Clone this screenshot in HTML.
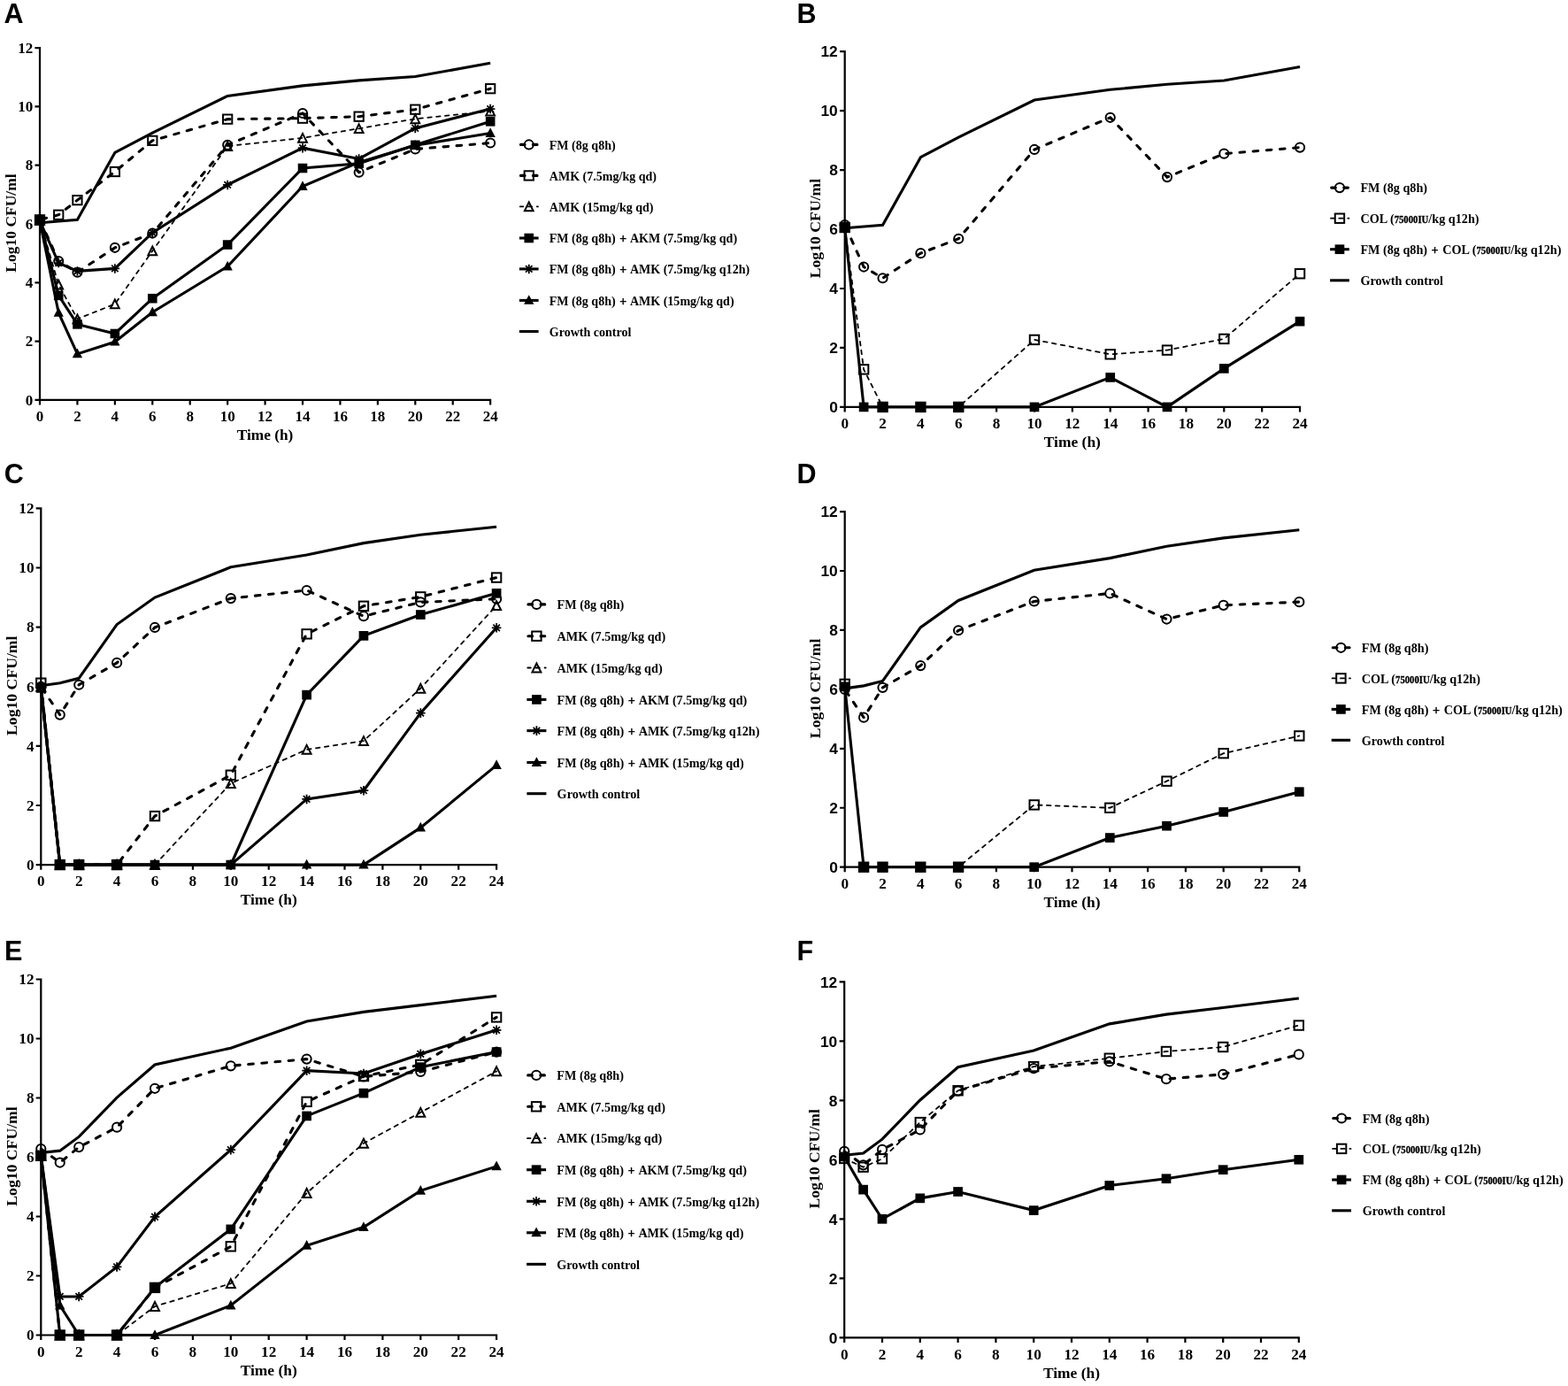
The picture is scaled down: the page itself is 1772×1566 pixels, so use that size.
<!DOCTYPE html>
<html lang="en"><head><meta charset="utf-8">
<title>Time-kill curves: FM combined with AMK or COL</title>
<style>
html,body{margin:0;padding:0;background:#fff;}
body{width:1772px;height:1566px;overflow:hidden;}
svg{display:block;}
.fig text{font-family:"Liberation Serif", "DejaVu Serif", serif;font-weight:bold;fill:#000;}
.fig text.sans{font-family:"Liberation Sans", "DejaVu Sans", sans-serif;font-weight:bold;}
.ln{fill:none;stroke:#000;stroke-linejoin:miter;}
.ax{fill:none;stroke:#000;stroke-linecap:butt;}
</style></head><body>
<svg class="fig" role="img" aria-label="Time-kill curves, panels A to F" width="1772" height="1566" viewBox="0 0 1772 1566">
<rect x="0" y="0" width="1772" height="1566" fill="#fff"/>
<g id="panel-A">
<text class="sans" x="4.5" y="26.2" font-size="30.5">A</text>
<path class="ax" d="M45 53.01L45 457.44M39.46 451.9L555.25 451.9M39.46 385.6L45 385.6M39.46 319.3L45 319.3M39.46 253L45 253M39.46 186.7L45 186.7M39.46 120.4L45 120.4M39.46 54.1L45 54.1M87.43 451.9L87.43 457.44M129.86 451.9L129.86 457.44M172.29 451.9L172.29 457.44M214.72 451.9L214.72 457.44M257.15 451.9L257.15 457.44M299.58 451.9L299.58 457.44M342.01 451.9L342.01 457.44M384.44 451.9L384.44 457.44M426.87 451.9L426.87 457.44M469.3 451.9L469.3 457.44M511.73 451.9L511.73 457.44M554.16 451.9L554.16 457.44" stroke-width="2.18"/>
<text x="37.29" y="457.65" font-size="17.01" text-anchor="end">0</text>
<text x="37.29" y="391.35" font-size="17.01" text-anchor="end">2</text>
<text x="37.29" y="325.05" font-size="17.01" text-anchor="end">4</text>
<text x="37.29" y="258.75" font-size="17.01" text-anchor="end">6</text>
<text x="37.29" y="192.45" font-size="17.01" text-anchor="end">8</text>
<text x="37.29" y="126.15" font-size="17.01" text-anchor="end">10</text>
<text x="37.29" y="59.85" font-size="17.01" text-anchor="end">12</text>
<text x="45" y="475.93" font-size="17.01" text-anchor="middle">0</text>
<text x="87.43" y="475.93" font-size="17.01" text-anchor="middle">2</text>
<text x="129.86" y="475.93" font-size="17.01" text-anchor="middle">4</text>
<text x="172.29" y="475.93" font-size="17.01" text-anchor="middle">6</text>
<text x="214.72" y="475.93" font-size="17.01" text-anchor="middle">8</text>
<text x="257.15" y="475.93" font-size="17.01" text-anchor="middle">10</text>
<text x="299.58" y="475.93" font-size="17.01" text-anchor="middle">12</text>
<text x="342.01" y="475.93" font-size="17.01" text-anchor="middle">14</text>
<text x="384.44" y="475.93" font-size="17.01" text-anchor="middle">16</text>
<text x="426.87" y="475.93" font-size="17.01" text-anchor="middle">18</text>
<text x="469.3" y="475.93" font-size="17.01" text-anchor="middle">20</text>
<text x="511.73" y="475.93" font-size="17.01" text-anchor="middle">22</text>
<text x="554.16" y="475.93" font-size="17.01" text-anchor="middle">24</text>
<text x="299.58" y="496.6" font-size="17.26" text-anchor="middle">Time (h)</text>
<text transform="translate(17.8 252) rotate(-90)" font-size="17.51" text-anchor="middle">Log10 CFU/ml</text>
<polyline class="ln" points="45,251.67 66.22,250.02 87.43,248.36 129.86,172.45 172.29,150.24 257.15,108.47 342.01,96.86 405.65,90.9 469.3,86.59 554.16,71.34" stroke-width="3.07"/>
<polyline class="ln" points="45,248.03 66.22,295.1 87.43,307.7 129.86,279.85 172.29,263.61 257.15,163.83 342.01,128.02 405.65,194.66 469.3,168.47 554.16,161.51" stroke-width="3.07" stroke-linecap="round" stroke-dasharray="5.54 9.49" stroke-dashoffset="-2.27"/>
<polyline class="ln" points="45,248.36 66.22,242.72 87.43,226.15 129.86,193.99 172.29,158.85 257.15,134.65 342.01,133.66 405.65,131.67 469.3,123.71 554.16,100.18" stroke-width="3.07" stroke-linecap="round" stroke-dasharray="5.54 9.49" stroke-dashoffset="-2.27"/>
<polyline class="ln" points="45,249.02 66.22,321.62 87.43,360.41 129.86,343.5 172.29,283.5 257.15,165.15 342.01,155.87 405.65,145.26 469.3,134.32 554.16,125.7" stroke-width="1.78" stroke-linecap="round" stroke-dasharray="4.45 5.44"/>
<polyline class="ln" points="45,248.69 66.22,333.89 87.43,366.37 129.86,376.98 172.29,337.2 257.15,276.54 342.01,190.01 405.65,184.71 469.3,163.83 554.16,137.31" stroke-width="3.07"/>
<polyline class="ln" points="45,249.69 66.22,297.09 87.43,306.37 129.86,303.39 172.29,262.94 257.15,208.91 342.01,167.14 405.65,179.41 469.3,144.93 554.16,123.05" stroke-width="3.07"/>
<polyline class="ln" points="45,249.69 66.22,353.44 87.43,399.85 129.86,386.26 172.29,352.78 257.15,301.07 342.01,210.57 405.65,183.38 469.3,164.16 554.16,150.57" stroke-width="3.07"/>
<g><circle cx="45" cy="248.03" r="5.04" fill="none" stroke="#000" stroke-width="1.98"/><circle cx="66.22" cy="295.1" r="5.04" fill="none" stroke="#000" stroke-width="1.98"/><circle cx="87.43" cy="307.7" r="5.04" fill="none" stroke="#000" stroke-width="1.98"/><circle cx="129.86" cy="279.85" r="5.04" fill="none" stroke="#000" stroke-width="1.98"/><circle cx="172.29" cy="263.61" r="5.04" fill="none" stroke="#000" stroke-width="1.98"/><circle cx="257.15" cy="163.83" r="5.04" fill="none" stroke="#000" stroke-width="1.98"/><circle cx="342.01" cy="128.02" r="5.04" fill="none" stroke="#000" stroke-width="1.98"/><circle cx="405.65" cy="194.66" r="5.04" fill="none" stroke="#000" stroke-width="1.98"/><circle cx="469.3" cy="168.47" r="5.04" fill="none" stroke="#000" stroke-width="1.98"/><circle cx="554.16" cy="161.51" r="5.04" fill="none" stroke="#000" stroke-width="1.98"/></g>
<g><rect x="39.86" y="243.22" width="10.29" height="10.29" fill="none" stroke="#000" stroke-width="1.98"/><rect x="61.07" y="237.58" width="10.29" height="10.29" fill="none" stroke="#000" stroke-width="1.98"/><rect x="82.29" y="221.01" width="10.29" height="10.29" fill="none" stroke="#000" stroke-width="1.98"/><rect x="124.72" y="188.85" width="10.29" height="10.29" fill="none" stroke="#000" stroke-width="1.98"/><rect x="167.15" y="153.71" width="10.29" height="10.29" fill="none" stroke="#000" stroke-width="1.98"/><rect x="252.01" y="129.51" width="10.29" height="10.29" fill="none" stroke="#000" stroke-width="1.98"/><rect x="336.87" y="128.52" width="10.29" height="10.29" fill="none" stroke="#000" stroke-width="1.98"/><rect x="400.51" y="126.53" width="10.29" height="10.29" fill="none" stroke="#000" stroke-width="1.98"/><rect x="464.16" y="118.57" width="10.29" height="10.29" fill="none" stroke="#000" stroke-width="1.98"/><rect x="549.02" y="95.04" width="10.29" height="10.29" fill="none" stroke="#000" stroke-width="1.98"/></g>
<g><path d="M45 244.08L49.9 253.87L40.1 253.87Z" fill="none" stroke="#000" stroke-width="1.98" stroke-linejoin="miter"/><path d="M66.22 316.68L71.11 326.47L61.32 326.47Z" fill="none" stroke="#000" stroke-width="1.98" stroke-linejoin="miter"/><path d="M87.43 355.46L92.33 365.25L82.53 365.25Z" fill="none" stroke="#000" stroke-width="1.98" stroke-linejoin="miter"/><path d="M129.86 338.55L134.76 348.35L124.96 348.35Z" fill="none" stroke="#000" stroke-width="1.98" stroke-linejoin="miter"/><path d="M172.29 278.55L177.19 288.34L167.39 288.34Z" fill="none" stroke="#000" stroke-width="1.98" stroke-linejoin="miter"/><path d="M257.15 160.21L262.05 170L252.25 170Z" fill="none" stroke="#000" stroke-width="1.98" stroke-linejoin="miter"/><path d="M342.01 150.93L346.91 160.72L337.11 160.72Z" fill="none" stroke="#000" stroke-width="1.98" stroke-linejoin="miter"/><path d="M405.65 140.32L410.55 150.11L400.76 150.11Z" fill="none" stroke="#000" stroke-width="1.98" stroke-linejoin="miter"/><path d="M469.3 129.38L474.2 139.17L464.4 139.17Z" fill="none" stroke="#000" stroke-width="1.98" stroke-linejoin="miter"/><path d="M554.16 120.76L559.06 130.55L549.26 130.55Z" fill="none" stroke="#000" stroke-width="1.98" stroke-linejoin="miter"/></g>
<g><rect x="39.71" y="243.4" width="10.58" height="10.58" fill="#000"/><rect x="60.92" y="328.59" width="10.58" height="10.58" fill="#000"/><rect x="82.14" y="361.08" width="10.58" height="10.58" fill="#000"/><rect x="124.57" y="371.69" width="10.58" height="10.58" fill="#000"/><rect x="167" y="331.91" width="10.58" height="10.58" fill="#000"/><rect x="251.86" y="271.25" width="10.58" height="10.58" fill="#000"/><rect x="336.72" y="184.72" width="10.58" height="10.58" fill="#000"/><rect x="400.36" y="179.42" width="10.58" height="10.58" fill="#000"/><rect x="464.01" y="158.54" width="10.58" height="10.58" fill="#000"/><rect x="548.87" y="132.02" width="10.58" height="10.58" fill="#000"/></g>
<g><path d="M45 244.44L45 254.93M48.71 245.98L41.29 253.39M50.24 249.69L39.76 249.69M48.71 253.39L41.29 245.98" fill="none" stroke="#000" stroke-width="1.78"/><path d="M66.22 291.85L66.22 302.33M69.92 293.38L62.51 300.8M71.46 297.09L60.97 297.09M69.92 300.8L62.51 293.38" fill="none" stroke="#000" stroke-width="1.78"/><path d="M87.43 301.13L87.43 311.61M91.14 302.67L83.72 310.08M92.67 306.37L82.19 306.37M91.14 310.08L83.72 302.67" fill="none" stroke="#000" stroke-width="1.78"/><path d="M129.86 298.15L129.86 308.63M133.57 299.68L126.15 307.09M135.1 303.39L124.62 303.39M133.57 307.09L126.15 299.68" fill="none" stroke="#000" stroke-width="1.78"/><path d="M172.29 257.7L172.29 268.19M176 259.24L168.58 266.65M177.53 262.94L167.05 262.94M176 266.65L168.58 259.24" fill="none" stroke="#000" stroke-width="1.78"/><path d="M257.15 203.67L257.15 214.15M260.86 205.2L253.44 212.62M262.39 208.91L251.91 208.91M260.86 212.62L253.44 205.2" fill="none" stroke="#000" stroke-width="1.78"/><path d="M342.01 161.9L342.01 172.38M345.72 163.44L338.3 170.85M347.25 167.14L336.77 167.14M345.72 170.85L338.3 163.44" fill="none" stroke="#000" stroke-width="1.78"/><path d="M405.65 174.17L405.65 184.65M409.36 175.7L401.95 183.11M410.9 179.41L400.41 179.41M409.36 183.11L401.95 175.7" fill="none" stroke="#000" stroke-width="1.78"/><path d="M469.3 139.69L469.3 150.17M473.01 141.22L465.59 148.64M474.54 144.93L464.06 144.93M473.01 148.64L465.59 141.22" fill="none" stroke="#000" stroke-width="1.78"/><path d="M554.16 117.81L554.16 128.29M557.87 119.35L550.45 126.76M559.4 123.05L548.92 123.05M557.87 126.76L550.45 119.35" fill="none" stroke="#000" stroke-width="1.78"/></g>
<g><path d="M45 243.45L50.64 254.04L39.36 254.04Z" fill="#000"/><path d="M66.22 347.21L71.85 357.8L60.58 357.8Z" fill="#000"/><path d="M87.43 393.62L93.07 404.21L81.79 404.21Z" fill="#000"/><path d="M129.86 380.03L135.5 390.61L124.22 390.61Z" fill="#000"/><path d="M172.29 346.55L177.93 357.13L166.65 357.13Z" fill="#000"/><path d="M257.15 294.84L262.79 305.42L251.51 305.42Z" fill="#000"/><path d="M342.01 204.34L347.65 214.92L336.37 214.92Z" fill="#000"/><path d="M405.65 177.15L411.29 187.74L400.02 187.74Z" fill="#000"/><path d="M469.3 157.93L474.94 168.51L463.66 168.51Z" fill="#000"/><path d="M554.16 144.34L559.8 154.92L548.52 154.92Z" fill="#000"/></g>
<path class="ln" d="M588.43 163.4L593.08 163.4M602.38 163.4L607.03 163.4" stroke-width="3.07" stroke-linecap="round"/>
<circle cx="597.75" cy="163.4" r="5.04" fill="none" stroke="#000" stroke-width="1.98"/>
<text x="620.8" y="168.54" font-size="14.04">FM (8g q8h)</text>
<path class="ln" d="M588.43 198.4L593.08 198.4M602.38 198.4L607.03 198.4" stroke-width="3.07" stroke-linecap="round"/>
<rect x="592.61" y="193.26" width="10.29" height="10.29" fill="none" stroke="#000" stroke-width="1.98"/>
<text x="620.8" y="203.54" font-size="14.04">AMK (7.5mg/kg qd)</text>
<path class="ln" d="M587.79 233.4L591.25 233.4M596.99 233.4L601.14 233.4M606.88 233.4L607.97 233.4" stroke-width="1.78" stroke-linecap="round"/>
<path d="M597.75 228.46L602.65 238.25L592.85 238.25Z" fill="none" stroke="#000" stroke-width="1.98" stroke-linejoin="miter"/>
<text x="620.8" y="238.54" font-size="14.04">AMK (15mg/kg qd)</text>
<path class="ln" d="M586.9 269L608.6 269" stroke-width="3.07"/>
<rect x="592.46" y="263.71" width="10.58" height="10.58" fill="#000"/>
<text x="620.8" y="274.14" font-size="14.04">FM (8g q8h) <tspan dx="1" stroke="#000" stroke-width="0.4">+</tspan> <tspan dx="1">AKM (7.5mg/kg qd)</tspan></text>
<path class="ln" d="M586.9 303.9L608.6 303.9" stroke-width="3.07"/>
<path d="M597.75 298.66L597.75 309.14M601.46 300.19L594.04 307.61M602.99 303.9L592.51 303.9M601.46 307.61L594.04 300.19" fill="none" stroke="#000" stroke-width="1.78"/>
<text x="620.8" y="309.04" font-size="14.04">FM (8g q8h) <tspan dx="1" stroke="#000" stroke-width="0.4">+</tspan> <tspan dx="1">AMK (7.5mg/kg q12h)</tspan></text>
<path class="ln" d="M586.9 339.4L608.6 339.4" stroke-width="3.07"/>
<path d="M597.75 333.17L603.39 343.75L592.11 343.75Z" fill="#000"/>
<text x="620.8" y="344.54" font-size="14.04">FM (8g q8h) <tspan dx="1" stroke="#000" stroke-width="0.4">+</tspan> <tspan dx="1">AMK (15mg/kg qd)</tspan></text>
<path class="ln" d="M586.9 374.5L608.6 374.5" stroke-width="3.07"/>
<text x="620.8" y="379.64" font-size="14.04">Growth control</text>
</g>
<g id="panel-B">
<text class="sans" x="900.5" y="26.2" font-size="30.5">B</text>
<path class="ax" d="M954.7 57.04L954.7 465.5M949.1 459.9L1470.12 459.9M949.1 392.94L954.7 392.94M949.1 325.98L954.7 325.98M949.1 259.02L954.7 259.02M949.1 192.06L954.7 192.06M949.1 125.1L954.7 125.1M949.1 58.14L954.7 58.14M997.56 459.9L997.56 465.5M1040.42 459.9L1040.42 465.5M1083.28 459.9L1083.28 465.5M1126.14 459.9L1126.14 465.5M1169 459.9L1169 465.5M1211.86 459.9L1211.86 465.5M1254.72 459.9L1254.72 465.5M1297.58 459.9L1297.58 465.5M1340.44 459.9L1340.44 465.5M1383.3 459.9L1383.3 465.5M1426.16 459.9L1426.16 465.5M1469.02 459.9L1469.02 465.5" stroke-width="2.2"/>
<text class="sans" x="946.8" y="466.13" font-size="17.4" text-anchor="end">0</text>
<text class="sans" x="946.8" y="399.17" font-size="17.4" text-anchor="end">2</text>
<text class="sans" x="946.8" y="332.21" font-size="17.4" text-anchor="end">4</text>
<text class="sans" x="946.8" y="265.25" font-size="17.4" text-anchor="end">6</text>
<text class="sans" x="946.8" y="198.29" font-size="17.4" text-anchor="end">8</text>
<text class="sans" x="946.8" y="131.33" font-size="17.4" text-anchor="end">10</text>
<text class="sans" x="946.8" y="64.37" font-size="17.4" text-anchor="end">12</text>
<text x="954.7" y="484.2" font-size="17.2" text-anchor="middle">0</text>
<text x="997.56" y="484.2" font-size="17.2" text-anchor="middle">2</text>
<text x="1040.42" y="484.2" font-size="17.2" text-anchor="middle">4</text>
<text x="1083.28" y="484.2" font-size="17.2" text-anchor="middle">6</text>
<text x="1126.14" y="484.2" font-size="17.2" text-anchor="middle">8</text>
<text x="1169" y="484.2" font-size="17.2" text-anchor="middle">10</text>
<text x="1211.86" y="484.2" font-size="17.2" text-anchor="middle">12</text>
<text x="1254.72" y="484.2" font-size="17.2" text-anchor="middle">14</text>
<text x="1297.58" y="484.2" font-size="17.2" text-anchor="middle">16</text>
<text x="1340.44" y="484.2" font-size="17.2" text-anchor="middle">18</text>
<text x="1383.3" y="484.2" font-size="17.2" text-anchor="middle">20</text>
<text x="1426.16" y="484.2" font-size="17.2" text-anchor="middle">22</text>
<text x="1469.02" y="484.2" font-size="17.2" text-anchor="middle">24</text>
<text x="1211.86" y="505.1" font-size="17.45" text-anchor="middle">Time (h)</text>
<text transform="translate(926.5 258.02) rotate(-90)" font-size="17.7" text-anchor="middle">Log10 CFU/ml</text>
<polyline class="ln" points="954.7,257.68 976.13,256.01 997.56,254.33 1040.42,177.66 1083.28,155.23 1169,113.05 1254.72,101.33 1319.01,95.3 1383.3,90.95 1469.02,75.55" stroke-width="3.1"/>
<polyline class="ln" points="954.7,254 976.13,301.54 997.56,314.26 1040.42,286.14 1083.28,269.73 1169,168.96 1254.72,132.8 1319.01,200.1 1383.3,173.65 1469.02,166.62" stroke-width="3.1" stroke-linecap="round" stroke-dasharray="5.6 9.6" stroke-dashoffset="-2.3"/>
<polyline class="ln" points="954.7,257.01 976.13,417.38 997.56,459.9 1040.42,459.9 1083.28,459.9 1169,383.9 1254.72,400.31 1319.01,395.62 1383.3,382.9 1469.02,309.24" stroke-width="1.8" stroke-linecap="round" stroke-dasharray="4.5 5.5"/>
<polyline class="ln" points="954.7,257.01 976.13,459.9 997.56,459.9 1040.42,459.9 1083.28,459.9 1169,459.9 1254.72,426.42 1319.01,459.9 1383.3,416.38 1469.02,363.14" stroke-width="3.1"/>
<g><circle cx="954.7" cy="254" r="5.1" fill="none" stroke="#000" stroke-width="2"/><circle cx="976.13" cy="301.54" r="5.1" fill="none" stroke="#000" stroke-width="2"/><circle cx="997.56" cy="314.26" r="5.1" fill="none" stroke="#000" stroke-width="2"/><circle cx="1040.42" cy="286.14" r="5.1" fill="none" stroke="#000" stroke-width="2"/><circle cx="1083.28" cy="269.73" r="5.1" fill="none" stroke="#000" stroke-width="2"/><circle cx="1169" cy="168.96" r="5.1" fill="none" stroke="#000" stroke-width="2"/><circle cx="1254.72" cy="132.8" r="5.1" fill="none" stroke="#000" stroke-width="2"/><circle cx="1319.01" cy="200.1" r="5.1" fill="none" stroke="#000" stroke-width="2"/><circle cx="1383.3" cy="173.65" r="5.1" fill="none" stroke="#000" stroke-width="2"/><circle cx="1469.02" cy="166.62" r="5.1" fill="none" stroke="#000" stroke-width="2"/></g>
<g><rect x="949.5" y="251.81" width="10.4" height="10.4" fill="none" stroke="#000" stroke-width="2"/><rect x="970.93" y="412.18" width="10.4" height="10.4" fill="none" stroke="#000" stroke-width="2"/><rect x="992.36" y="454.7" width="10.4" height="10.4" fill="none" stroke="#000" stroke-width="2"/><rect x="1035.22" y="454.7" width="10.4" height="10.4" fill="none" stroke="#000" stroke-width="2"/><rect x="1078.08" y="454.7" width="10.4" height="10.4" fill="none" stroke="#000" stroke-width="2"/><rect x="1163.8" y="378.7" width="10.4" height="10.4" fill="none" stroke="#000" stroke-width="2"/><rect x="1249.52" y="395.11" width="10.4" height="10.4" fill="none" stroke="#000" stroke-width="2"/><rect x="1313.81" y="390.42" width="10.4" height="10.4" fill="none" stroke="#000" stroke-width="2"/><rect x="1378.1" y="377.7" width="10.4" height="10.4" fill="none" stroke="#000" stroke-width="2"/><rect x="1463.82" y="304.04" width="10.4" height="10.4" fill="none" stroke="#000" stroke-width="2"/></g>
<g><rect x="949.35" y="251.66" width="10.7" height="10.7" fill="#000"/><rect x="970.78" y="454.55" width="10.7" height="10.7" fill="#000"/><rect x="992.21" y="454.55" width="10.7" height="10.7" fill="#000"/><rect x="1035.07" y="454.55" width="10.7" height="10.7" fill="#000"/><rect x="1077.93" y="454.55" width="10.7" height="10.7" fill="#000"/><rect x="1163.65" y="454.55" width="10.7" height="10.7" fill="#000"/><rect x="1249.37" y="421.07" width="10.7" height="10.7" fill="#000"/><rect x="1313.66" y="454.55" width="10.7" height="10.7" fill="#000"/><rect x="1377.95" y="411.03" width="10.7" height="10.7" fill="#000"/><rect x="1463.67" y="357.79" width="10.7" height="10.7" fill="#000"/></g>
<path class="ln" d="M1504.65 212.1L1509.35 212.1M1518.75 212.1L1523.45 212.1" stroke-width="3.1" stroke-linecap="round"/>
<circle cx="1513.95" cy="212.1" r="5.1" fill="none" stroke="#000" stroke-width="2"/>
<text x="1537.4" y="217.3" font-size="14.2">FM (8g q8h)</text>
<path class="ln" d="M1504 246.7L1507.5 246.7M1513.3 246.7L1517.5 246.7M1523.3 246.7L1524.4 246.7" stroke-width="1.8" stroke-linecap="round"/>
<rect x="1508.75" y="241.5" width="10.4" height="10.4" fill="none" stroke="#000" stroke-width="2"/>
<text x="1537.4" y="251.9" font-size="14.2">COL (<tspan font-size="12.5" textLength="38.7" lengthAdjust="spacingAndGlyphs" stroke="#000" stroke-width="0.35">75000IU</tspan>/kg q12h)</text>
<path class="ln" d="M1503.1 281.7L1524.8 281.7" stroke-width="3.1"/>
<rect x="1508.6" y="276.35" width="10.7" height="10.7" fill="#000"/>
<text x="1537.4" y="286.9" font-size="14.2">FM (8g q8h) <tspan dx="1" stroke="#000" stroke-width="0.4">+</tspan> <tspan dx="1">COL (</tspan><tspan font-size="12.5" textLength="38.7" lengthAdjust="spacingAndGlyphs" stroke="#000" stroke-width="0.35">75000IU</tspan>/kg q12h)</text>
<path class="ln" d="M1503.1 316.8L1524.8 316.8" stroke-width="3.1"/>
<text x="1537.4" y="322" font-size="14.2">Growth control</text>
</g>
<g id="panel-C">
<text class="sans" x="4.8" y="545.9" font-size="30.5">C</text>
<path class="ax" d="M46.3 573.28L46.3 982.7M40.7 977.1L562.2 977.1M40.7 909.98L46.3 909.98M40.7 842.86L46.3 842.86M40.7 775.74L46.3 775.74M40.7 708.62L46.3 708.62M40.7 641.5L46.3 641.5M40.7 574.38L46.3 574.38M89.2 977.1L89.2 982.7M132.1 977.1L132.1 982.7M175 977.1L175 982.7M217.9 977.1L217.9 982.7M260.8 977.1L260.8 982.7M303.7 977.1L303.7 982.7M346.6 977.1L346.6 982.7M389.5 977.1L389.5 982.7M432.4 977.1L432.4 982.7M475.3 977.1L475.3 982.7M518.2 977.1L518.2 982.7M561.1 977.1L561.1 982.7" stroke-width="2.2"/>
<text x="38.5" y="982.91" font-size="17.2" text-anchor="end">0</text>
<text x="38.5" y="915.79" font-size="17.2" text-anchor="end">2</text>
<text x="38.5" y="848.67" font-size="17.2" text-anchor="end">4</text>
<text x="38.5" y="781.55" font-size="17.2" text-anchor="end">6</text>
<text x="38.5" y="714.43" font-size="17.2" text-anchor="end">8</text>
<text x="38.5" y="647.31" font-size="17.2" text-anchor="end">10</text>
<text x="38.5" y="580.19" font-size="17.2" text-anchor="end">12</text>
<text x="46.3" y="1001.4" font-size="17.2" text-anchor="middle">0</text>
<text x="89.2" y="1001.4" font-size="17.2" text-anchor="middle">2</text>
<text x="132.1" y="1001.4" font-size="17.2" text-anchor="middle">4</text>
<text x="175" y="1001.4" font-size="17.2" text-anchor="middle">6</text>
<text x="217.9" y="1001.4" font-size="17.2" text-anchor="middle">8</text>
<text x="260.8" y="1001.4" font-size="17.2" text-anchor="middle">10</text>
<text x="303.7" y="1001.4" font-size="17.2" text-anchor="middle">12</text>
<text x="346.6" y="1001.4" font-size="17.2" text-anchor="middle">14</text>
<text x="389.5" y="1001.4" font-size="17.2" text-anchor="middle">16</text>
<text x="432.4" y="1001.4" font-size="17.2" text-anchor="middle">18</text>
<text x="475.3" y="1001.4" font-size="17.2" text-anchor="middle">20</text>
<text x="518.2" y="1001.4" font-size="17.2" text-anchor="middle">22</text>
<text x="561.1" y="1001.4" font-size="17.2" text-anchor="middle">24</text>
<text x="303.7" y="1022.3" font-size="17.45" text-anchor="middle">Time (h)</text>
<text transform="translate(18.5 774.74) rotate(-90)" font-size="17.7" text-anchor="middle">Log10 CFU/ml</text>
<polyline class="ln" points="46.3,774.73 67.75,771.71 89.2,766.34 132.1,705.6 175,675.06 260.8,640.83 346.6,627.07 410.95,613.65 475.3,604.25 561.1,595.19" stroke-width="3.1"/>
<polyline class="ln" points="46.3,775.74 67.75,807.62 89.2,773.73 132.1,748.89 175,708.96 260.8,676.07 346.6,667.01 410.95,696.2 475.3,680.43 561.1,676.74" stroke-width="3.1" stroke-linecap="round" stroke-dasharray="5.6 9.6" stroke-dashoffset="-2.3"/>
<polyline class="ln" points="46.3,771.71 67.75,977.1 89.2,977.1 132.1,977.1 175,922.06 260.8,875.75 346.6,716.34 410.95,684.79 475.3,674.39 561.1,652.57" stroke-width="3.1" stroke-linecap="round" stroke-dasharray="5.6 9.6" stroke-dashoffset="-2.3"/>
<polyline class="ln" points="46.3,775.74 67.75,977.1 89.2,977.1 132.1,977.1 175,977.1 260.8,885.15 346.6,846.89 410.95,837.15 475.3,777.75 561.1,684.12" stroke-width="1.8" stroke-linecap="round" stroke-dasharray="4.5 5.5"/>
<polyline class="ln" points="46.3,777.42 67.75,977.1 89.2,977.1 132.1,977.1 175,977.1 260.8,977.1 346.6,785.14 410.95,718.35 475.3,694.52 561.1,670.36" stroke-width="3.1"/>
<polyline class="ln" points="46.3,775.74 67.75,977.1 89.2,977.1 132.1,977.1 175,977.1 260.8,977.1 346.6,902.93 410.95,893.2 475.3,805.61 561.1,709.29" stroke-width="3.1"/>
<polyline class="ln" points="46.3,775.74 67.75,977.1 89.2,977.1 132.1,977.1 175,977.1 260.8,977.1 346.6,977.1 410.95,977.1 475.3,935.15 561.1,864.67" stroke-width="3.1"/>
<g><circle cx="46.3" cy="775.74" r="5.1" fill="none" stroke="#000" stroke-width="2"/><circle cx="67.75" cy="807.62" r="5.1" fill="none" stroke="#000" stroke-width="2"/><circle cx="89.2" cy="773.73" r="5.1" fill="none" stroke="#000" stroke-width="2"/><circle cx="132.1" cy="748.89" r="5.1" fill="none" stroke="#000" stroke-width="2"/><circle cx="175" cy="708.96" r="5.1" fill="none" stroke="#000" stroke-width="2"/><circle cx="260.8" cy="676.07" r="5.1" fill="none" stroke="#000" stroke-width="2"/><circle cx="346.6" cy="667.01" r="5.1" fill="none" stroke="#000" stroke-width="2"/><circle cx="410.95" cy="696.2" r="5.1" fill="none" stroke="#000" stroke-width="2"/><circle cx="475.3" cy="680.43" r="5.1" fill="none" stroke="#000" stroke-width="2"/><circle cx="561.1" cy="676.74" r="5.1" fill="none" stroke="#000" stroke-width="2"/></g>
<g><rect x="41.1" y="766.51" width="10.4" height="10.4" fill="none" stroke="#000" stroke-width="2"/><rect x="62.55" y="971.9" width="10.4" height="10.4" fill="none" stroke="#000" stroke-width="2"/><rect x="84" y="971.9" width="10.4" height="10.4" fill="none" stroke="#000" stroke-width="2"/><rect x="126.9" y="971.9" width="10.4" height="10.4" fill="none" stroke="#000" stroke-width="2"/><rect x="169.8" y="916.86" width="10.4" height="10.4" fill="none" stroke="#000" stroke-width="2"/><rect x="255.6" y="870.55" width="10.4" height="10.4" fill="none" stroke="#000" stroke-width="2"/><rect x="341.4" y="711.14" width="10.4" height="10.4" fill="none" stroke="#000" stroke-width="2"/><rect x="405.75" y="679.59" width="10.4" height="10.4" fill="none" stroke="#000" stroke-width="2"/><rect x="470.1" y="669.19" width="10.4" height="10.4" fill="none" stroke="#000" stroke-width="2"/><rect x="555.9" y="647.37" width="10.4" height="10.4" fill="none" stroke="#000" stroke-width="2"/></g>
<g><path d="M46.3 770.74L51.25 780.64L41.35 780.64Z" fill="none" stroke="#000" stroke-width="2" stroke-linejoin="miter"/><path d="M67.75 972.1L72.7 982L62.8 982Z" fill="none" stroke="#000" stroke-width="2" stroke-linejoin="miter"/><path d="M89.2 972.1L94.15 982L84.25 982Z" fill="none" stroke="#000" stroke-width="2" stroke-linejoin="miter"/><path d="M132.1 972.1L137.05 982L127.15 982Z" fill="none" stroke="#000" stroke-width="2" stroke-linejoin="miter"/><path d="M175 972.1L179.95 982L170.05 982Z" fill="none" stroke="#000" stroke-width="2" stroke-linejoin="miter"/><path d="M260.8 880.15L265.75 890.05L255.85 890.05Z" fill="none" stroke="#000" stroke-width="2" stroke-linejoin="miter"/><path d="M346.6 841.89L351.55 851.79L341.65 851.79Z" fill="none" stroke="#000" stroke-width="2" stroke-linejoin="miter"/><path d="M410.95 832.15L415.9 842.05L406 842.05Z" fill="none" stroke="#000" stroke-width="2" stroke-linejoin="miter"/><path d="M475.3 772.75L480.25 782.65L470.35 782.65Z" fill="none" stroke="#000" stroke-width="2" stroke-linejoin="miter"/><path d="M561.1 679.12L566.05 689.02L556.15 689.02Z" fill="none" stroke="#000" stroke-width="2" stroke-linejoin="miter"/></g>
<g><rect x="40.95" y="772.07" width="10.7" height="10.7" fill="#000"/><rect x="62.4" y="971.75" width="10.7" height="10.7" fill="#000"/><rect x="83.85" y="971.75" width="10.7" height="10.7" fill="#000"/><rect x="126.75" y="971.75" width="10.7" height="10.7" fill="#000"/><rect x="169.65" y="971.75" width="10.7" height="10.7" fill="#000"/><rect x="255.45" y="971.75" width="10.7" height="10.7" fill="#000"/><rect x="341.25" y="779.79" width="10.7" height="10.7" fill="#000"/><rect x="405.6" y="713" width="10.7" height="10.7" fill="#000"/><rect x="469.95" y="689.17" width="10.7" height="10.7" fill="#000"/><rect x="555.75" y="665.01" width="10.7" height="10.7" fill="#000"/></g>
<g><path d="M46.3 770.44L46.3 781.04M50.05 771.99L42.55 779.49M51.6 775.74L41 775.74M50.05 779.49L42.55 771.99" fill="none" stroke="#000" stroke-width="1.8"/><path d="M67.75 971.8L67.75 982.4M71.5 973.35L64 980.85M73.05 977.1L62.45 977.1M71.5 980.85L64 973.35" fill="none" stroke="#000" stroke-width="1.8"/><path d="M89.2 971.8L89.2 982.4M92.95 973.35L85.45 980.85M94.5 977.1L83.9 977.1M92.95 980.85L85.45 973.35" fill="none" stroke="#000" stroke-width="1.8"/><path d="M132.1 971.8L132.1 982.4M135.85 973.35L128.35 980.85M137.4 977.1L126.8 977.1M135.85 980.85L128.35 973.35" fill="none" stroke="#000" stroke-width="1.8"/><path d="M175 971.8L175 982.4M178.75 973.35L171.25 980.85M180.3 977.1L169.7 977.1M178.75 980.85L171.25 973.35" fill="none" stroke="#000" stroke-width="1.8"/><path d="M260.8 971.8L260.8 982.4M264.55 973.35L257.05 980.85M266.1 977.1L255.5 977.1M264.55 980.85L257.05 973.35" fill="none" stroke="#000" stroke-width="1.8"/><path d="M346.6 897.63L346.6 908.23M350.35 899.18L342.85 906.68M351.9 902.93L341.3 902.93M350.35 906.68L342.85 899.18" fill="none" stroke="#000" stroke-width="1.8"/><path d="M410.95 887.9L410.95 898.5M414.7 889.45L407.2 896.95M416.25 893.2L405.65 893.2M414.7 896.95L407.2 889.45" fill="none" stroke="#000" stroke-width="1.8"/><path d="M475.3 800.31L475.3 810.91M479.05 801.86L471.55 809.36M480.6 805.61L470 805.61M479.05 809.36L471.55 801.86" fill="none" stroke="#000" stroke-width="1.8"/><path d="M561.1 703.99L561.1 714.59M564.85 705.54L557.35 713.04M566.4 709.29L555.8 709.29M564.85 713.04L557.35 705.54" fill="none" stroke="#000" stroke-width="1.8"/></g>
<g><path d="M46.3 769.44L52 780.14L40.6 780.14Z" fill="#000"/><path d="M67.75 970.8L73.45 981.5L62.05 981.5Z" fill="#000"/><path d="M89.2 970.8L94.9 981.5L83.5 981.5Z" fill="#000"/><path d="M132.1 970.8L137.8 981.5L126.4 981.5Z" fill="#000"/><path d="M175 970.8L180.7 981.5L169.3 981.5Z" fill="#000"/><path d="M260.8 970.8L266.5 981.5L255.1 981.5Z" fill="#000"/><path d="M346.6 970.8L352.3 981.5L340.9 981.5Z" fill="#000"/><path d="M410.95 970.8L416.65 981.5L405.25 981.5Z" fill="#000"/><path d="M475.3 928.85L481 939.55L469.6 939.55Z" fill="#000"/><path d="M561.1 858.37L566.8 869.07L555.4 869.07Z" fill="#000"/></g>
<path class="ln" d="M596.95 682.9L601.65 682.9M611.05 682.9L615.75 682.9" stroke-width="3.1" stroke-linecap="round"/>
<circle cx="606.4" cy="682.9" r="5.1" fill="none" stroke="#000" stroke-width="2"/>
<text x="629.6" y="688.1" font-size="14.2">FM (8g q8h)</text>
<path class="ln" d="M596.95 718.7L601.65 718.7M611.05 718.7L615.75 718.7" stroke-width="3.1" stroke-linecap="round"/>
<rect x="601.2" y="713.5" width="10.4" height="10.4" fill="none" stroke="#000" stroke-width="2"/>
<text x="629.6" y="723.9" font-size="14.2">AMK (7.5mg/kg qd)</text>
<path class="ln" d="M596.3 754.5L599.8 754.5M605.6 754.5L609.8 754.5M615.6 754.5L616.7 754.5" stroke-width="1.8" stroke-linecap="round"/>
<path d="M606.4 749.5L611.35 759.4L601.45 759.4Z" fill="none" stroke="#000" stroke-width="2" stroke-linejoin="miter"/>
<text x="629.6" y="759.7" font-size="14.2">AMK (15mg/kg qd)</text>
<path class="ln" d="M595.4 790.4L617.4 790.4" stroke-width="3.1"/>
<rect x="601.05" y="785.05" width="10.7" height="10.7" fill="#000"/>
<text x="629.6" y="795.6" font-size="14.2">FM (8g q8h) <tspan dx="1" stroke="#000" stroke-width="0.4">+</tspan> <tspan dx="1">AKM (7.5mg/kg qd)</tspan></text>
<path class="ln" d="M595.4 825.6L617.4 825.6" stroke-width="3.1"/>
<path d="M606.4 820.3L606.4 830.9M610.15 821.85L602.65 829.35M611.7 825.6L601.1 825.6M610.15 829.35L602.65 821.85" fill="none" stroke="#000" stroke-width="1.8"/>
<text x="629.6" y="830.8" font-size="14.2">FM (8g q8h) <tspan dx="1" stroke="#000" stroke-width="0.4">+</tspan> <tspan dx="1">AMK (7.5mg/kg q12h)</tspan></text>
<path class="ln" d="M595.4 861.5L617.4 861.5" stroke-width="3.1"/>
<path d="M606.4 855.2L612.1 865.9L600.7 865.9Z" fill="#000"/>
<text x="629.6" y="866.7" font-size="14.2">FM (8g q8h) <tspan dx="1" stroke="#000" stroke-width="0.4">+</tspan> <tspan dx="1">AMK (15mg/kg qd)</tspan></text>
<path class="ln" d="M595.4 896.7L617.4 896.7" stroke-width="3.1"/>
<text x="629.6" y="901.9" font-size="14.2">Growth control</text>
</g>
<g id="panel-D">
<text class="sans" x="900.5" y="545.7" font-size="30.5">D</text>
<path class="ax" d="M954.7 576.96L954.7 985.3M949.1 979.7L1469.4 979.7M949.1 912.76L954.7 912.76M949.1 845.82L954.7 845.82M949.1 778.88L954.7 778.88M949.1 711.94L954.7 711.94M949.1 645L954.7 645M949.1 578.06L954.7 578.06M997.5 979.7L997.5 985.3M1040.3 979.7L1040.3 985.3M1083.1 979.7L1083.1 985.3M1125.9 979.7L1125.9 985.3M1168.7 979.7L1168.7 985.3M1211.5 979.7L1211.5 985.3M1254.3 979.7L1254.3 985.3M1297.1 979.7L1297.1 985.3M1339.9 979.7L1339.9 985.3M1382.7 979.7L1382.7 985.3M1425.5 979.7L1425.5 985.3M1468.3 979.7L1468.3 985.3" stroke-width="2.2"/>
<text class="sans" x="946.8" y="985.93" font-size="17.4" text-anchor="end">0</text>
<text class="sans" x="946.8" y="918.99" font-size="17.4" text-anchor="end">2</text>
<text class="sans" x="946.8" y="852.05" font-size="17.4" text-anchor="end">4</text>
<text class="sans" x="946.8" y="785.11" font-size="17.4" text-anchor="end">6</text>
<text class="sans" x="946.8" y="718.17" font-size="17.4" text-anchor="end">8</text>
<text class="sans" x="946.8" y="651.23" font-size="17.4" text-anchor="end">10</text>
<text class="sans" x="946.8" y="584.29" font-size="17.4" text-anchor="end">12</text>
<text x="954.7" y="1004" font-size="17.2" text-anchor="middle">0</text>
<text x="997.5" y="1004" font-size="17.2" text-anchor="middle">2</text>
<text x="1040.3" y="1004" font-size="17.2" text-anchor="middle">4</text>
<text x="1083.1" y="1004" font-size="17.2" text-anchor="middle">6</text>
<text x="1125.9" y="1004" font-size="17.2" text-anchor="middle">8</text>
<text x="1168.7" y="1004" font-size="17.2" text-anchor="middle">10</text>
<text x="1211.5" y="1004" font-size="17.2" text-anchor="middle">12</text>
<text x="1254.3" y="1004" font-size="17.2" text-anchor="middle">14</text>
<text x="1297.1" y="1004" font-size="17.2" text-anchor="middle">16</text>
<text x="1339.9" y="1004" font-size="17.2" text-anchor="middle">18</text>
<text x="1382.7" y="1004" font-size="17.2" text-anchor="middle">20</text>
<text x="1425.5" y="1004" font-size="17.2" text-anchor="middle">22</text>
<text x="1468.3" y="1004" font-size="17.2" text-anchor="middle">24</text>
<text x="1211.5" y="1024.9" font-size="17.45" text-anchor="middle">Time (h)</text>
<text transform="translate(926.5 777.88) rotate(-90)" font-size="17.7" text-anchor="middle">Log10 CFU/ml</text>
<polyline class="ln" points="954.7,777.88 976.1,774.86 997.5,769.51 1040.3,708.93 1083.1,678.47 1168.7,644.33 1254.3,630.61 1318.5,617.22 1382.7,607.85 1468.3,598.81" stroke-width="3.1"/>
<polyline class="ln" points="954.7,778.88 976.1,810.68 997.5,776.87 1040.3,752.1 1083.1,712.27 1168.7,679.47 1254.3,670.44 1318.5,699.56 1382.7,683.83 1468.3,680.14" stroke-width="3.1" stroke-linecap="round" stroke-dasharray="5.6 9.6" stroke-dashoffset="-2.3"/>
<polyline class="ln" points="954.7,772.86 976.1,979.7 997.5,979.7 1040.3,979.7 1083.1,979.7 1168.7,909.41 1254.3,912.76 1318.5,882.64 1382.7,851.18 1468.3,831.43" stroke-width="1.8" stroke-linecap="round" stroke-dasharray="4.5 5.5"/>
<polyline class="ln" points="954.7,775.87 976.1,979.7 997.5,979.7 1040.3,979.7 1083.1,979.7 1168.7,979.7 1254.3,946.56 1318.5,933.18 1382.7,917.45 1468.3,894.69" stroke-width="3.1"/>
<g><circle cx="954.7" cy="778.88" r="5.1" fill="none" stroke="#000" stroke-width="2"/><circle cx="976.1" cy="810.68" r="5.1" fill="none" stroke="#000" stroke-width="2"/><circle cx="997.5" cy="776.87" r="5.1" fill="none" stroke="#000" stroke-width="2"/><circle cx="1040.3" cy="752.1" r="5.1" fill="none" stroke="#000" stroke-width="2"/><circle cx="1083.1" cy="712.27" r="5.1" fill="none" stroke="#000" stroke-width="2"/><circle cx="1168.7" cy="679.47" r="5.1" fill="none" stroke="#000" stroke-width="2"/><circle cx="1254.3" cy="670.44" r="5.1" fill="none" stroke="#000" stroke-width="2"/><circle cx="1318.5" cy="699.56" r="5.1" fill="none" stroke="#000" stroke-width="2"/><circle cx="1382.7" cy="683.83" r="5.1" fill="none" stroke="#000" stroke-width="2"/><circle cx="1468.3" cy="680.14" r="5.1" fill="none" stroke="#000" stroke-width="2"/></g>
<g><rect x="949.5" y="767.66" width="10.4" height="10.4" fill="none" stroke="#000" stroke-width="2"/><rect x="970.9" y="974.5" width="10.4" height="10.4" fill="none" stroke="#000" stroke-width="2"/><rect x="992.3" y="974.5" width="10.4" height="10.4" fill="none" stroke="#000" stroke-width="2"/><rect x="1035.1" y="974.5" width="10.4" height="10.4" fill="none" stroke="#000" stroke-width="2"/><rect x="1077.9" y="974.5" width="10.4" height="10.4" fill="none" stroke="#000" stroke-width="2"/><rect x="1163.5" y="904.21" width="10.4" height="10.4" fill="none" stroke="#000" stroke-width="2"/><rect x="1249.1" y="907.56" width="10.4" height="10.4" fill="none" stroke="#000" stroke-width="2"/><rect x="1313.3" y="877.44" width="10.4" height="10.4" fill="none" stroke="#000" stroke-width="2"/><rect x="1377.5" y="845.98" width="10.4" height="10.4" fill="none" stroke="#000" stroke-width="2"/><rect x="1463.1" y="826.23" width="10.4" height="10.4" fill="none" stroke="#000" stroke-width="2"/></g>
<g><rect x="949.35" y="770.52" width="10.7" height="10.7" fill="#000"/><rect x="970.75" y="974.35" width="10.7" height="10.7" fill="#000"/><rect x="992.15" y="974.35" width="10.7" height="10.7" fill="#000"/><rect x="1034.95" y="974.35" width="10.7" height="10.7" fill="#000"/><rect x="1077.75" y="974.35" width="10.7" height="10.7" fill="#000"/><rect x="1163.35" y="974.35" width="10.7" height="10.7" fill="#000"/><rect x="1248.95" y="941.21" width="10.7" height="10.7" fill="#000"/><rect x="1313.15" y="927.83" width="10.7" height="10.7" fill="#000"/><rect x="1377.35" y="912.1" width="10.7" height="10.7" fill="#000"/><rect x="1462.95" y="889.34" width="10.7" height="10.7" fill="#000"/></g>
<path class="ln" d="M1506.25 731.8L1510.95 731.8M1520.35 731.8L1525.05 731.8" stroke-width="3.1" stroke-linecap="round"/>
<circle cx="1515.4" cy="731.8" r="5.1" fill="none" stroke="#000" stroke-width="2"/>
<text x="1538.8" y="737" font-size="14.2">FM (8g q8h)</text>
<path class="ln" d="M1505.6 766.4L1509.1 766.4M1514.9 766.4L1519.1 766.4M1524.9 766.4L1526 766.4" stroke-width="1.8" stroke-linecap="round"/>
<rect x="1510.2" y="761.2" width="10.4" height="10.4" fill="none" stroke="#000" stroke-width="2"/>
<text x="1538.8" y="771.6" font-size="14.2">COL (<tspan font-size="12.5" textLength="38.7" lengthAdjust="spacingAndGlyphs" stroke="#000" stroke-width="0.35">75000IU</tspan>/kg q12h)</text>
<path class="ln" d="M1504.7 801.4L1526.1 801.4" stroke-width="3.1"/>
<rect x="1510.05" y="796.05" width="10.7" height="10.7" fill="#000"/>
<text x="1538.8" y="806.6" font-size="14.2">FM (8g q8h) <tspan dx="1" stroke="#000" stroke-width="0.4">+</tspan> <tspan dx="1">COL (</tspan><tspan font-size="12.5" textLength="38.7" lengthAdjust="spacingAndGlyphs" stroke="#000" stroke-width="0.35">75000IU</tspan>/kg q12h)</text>
<path class="ln" d="M1504.7 836.3L1526.1 836.3" stroke-width="3.1"/>
<text x="1538.8" y="841.5" font-size="14.2">Growth control</text>
</g>
<g id="panel-E">
<text class="sans" x="5" y="1085.2" font-size="30.5">E</text>
<path class="ax" d="M46.3 1105.4L46.3 1514.1M40.7 1508.5L562.2 1508.5M40.7 1441.5L46.3 1441.5M40.7 1374.5L46.3 1374.5M40.7 1307.5L46.3 1307.5M40.7 1240.5L46.3 1240.5M40.7 1173.5L46.3 1173.5M40.7 1106.5L46.3 1106.5M89.2 1508.5L89.2 1514.1M132.1 1508.5L132.1 1514.1M175 1508.5L175 1514.1M217.9 1508.5L217.9 1514.1M260.8 1508.5L260.8 1514.1M303.7 1508.5L303.7 1514.1M346.6 1508.5L346.6 1514.1M389.5 1508.5L389.5 1514.1M432.4 1508.5L432.4 1514.1M475.3 1508.5L475.3 1514.1M518.2 1508.5L518.2 1514.1M561.1 1508.5L561.1 1514.1" stroke-width="2.2"/>
<text x="38.5" y="1514.31" font-size="17.2" text-anchor="end">0</text>
<text x="38.5" y="1447.31" font-size="17.2" text-anchor="end">2</text>
<text x="38.5" y="1380.31" font-size="17.2" text-anchor="end">4</text>
<text x="38.5" y="1313.31" font-size="17.2" text-anchor="end">6</text>
<text x="38.5" y="1246.31" font-size="17.2" text-anchor="end">8</text>
<text x="38.5" y="1179.31" font-size="17.2" text-anchor="end">10</text>
<text x="38.5" y="1112.31" font-size="17.2" text-anchor="end">12</text>
<text x="46.3" y="1532.8" font-size="17.2" text-anchor="middle">0</text>
<text x="89.2" y="1532.8" font-size="17.2" text-anchor="middle">2</text>
<text x="132.1" y="1532.8" font-size="17.2" text-anchor="middle">4</text>
<text x="175" y="1532.8" font-size="17.2" text-anchor="middle">6</text>
<text x="217.9" y="1532.8" font-size="17.2" text-anchor="middle">8</text>
<text x="260.8" y="1532.8" font-size="17.2" text-anchor="middle">10</text>
<text x="303.7" y="1532.8" font-size="17.2" text-anchor="middle">12</text>
<text x="346.6" y="1532.8" font-size="17.2" text-anchor="middle">14</text>
<text x="389.5" y="1532.8" font-size="17.2" text-anchor="middle">16</text>
<text x="432.4" y="1532.8" font-size="17.2" text-anchor="middle">18</text>
<text x="475.3" y="1532.8" font-size="17.2" text-anchor="middle">20</text>
<text x="518.2" y="1532.8" font-size="17.2" text-anchor="middle">22</text>
<text x="561.1" y="1532.8" font-size="17.2" text-anchor="middle">24</text>
<text x="303.7" y="1553.7" font-size="17.45" text-anchor="middle">Time (h)</text>
<text transform="translate(18.5 1306.5) rotate(-90)" font-size="17.7" text-anchor="middle">Log10 CFU/ml</text>
<polyline class="ln" points="46.3,1302.47 67.75,1300.13 89.2,1284.38 132.1,1240.16 175,1202.98 260.8,1184.22 346.6,1154.07 410.95,1143.35 475.3,1135.64 561.1,1125.26" stroke-width="3.1"/>
<polyline class="ln" points="46.3,1298.12 67.75,1313.53 89.2,1296.11 132.1,1273.66 175,1229.78 260.8,1204.32 346.6,1196.62 410.95,1216.38 475.3,1211.02 561.1,1188.58" stroke-width="3.1" stroke-linecap="round" stroke-dasharray="5.6 9.6" stroke-dashoffset="0.3"/>
<polyline class="ln" points="46.3,1305.83 67.75,1508.5 89.2,1508.5 132.1,1508.5 175,1454.9 260.8,1408.34 346.6,1244.86 410.95,1216.05 475.3,1202.98 561.1,1149.38" stroke-width="3.1" stroke-linecap="round" stroke-dasharray="5.6 9.6" stroke-dashoffset="-2.3"/>
<polyline class="ln" points="46.3,1305.83 67.75,1508.5 89.2,1508.5 132.1,1508.5 175,1476.01 260.8,1450.21 346.6,1348.04 410.95,1291.76 475.3,1256.91 561.1,1210.35" stroke-width="1.8" stroke-linecap="round" stroke-dasharray="4.5 5.5"/>
<polyline class="ln" points="46.3,1305.83 67.75,1508.5 89.2,1508.5 132.1,1508.5 175,1454.57 260.8,1388.9 346.6,1260.93 410.95,1235.14 475.3,1205.66 561.1,1188.58" stroke-width="3.1"/>
<polyline class="ln" points="46.3,1305.83 67.75,1464.95 89.2,1464.95 132.1,1431.45 175,1374.84 260.8,1299.12 346.6,1209.68 410.95,1213.03 475.3,1190.92 561.1,1163.79" stroke-width="3.1"/>
<polyline class="ln" points="46.3,1305.83 67.75,1475 89.2,1508.5 132.1,1508.5 175,1508.5 260.8,1475 346.6,1407.33 410.95,1386.56 475.3,1345.36 561.1,1317.88" stroke-width="3.1"/>
<g><circle cx="46.3" cy="1298.12" r="5.1" fill="none" stroke="#000" stroke-width="2"/><circle cx="67.75" cy="1313.53" r="5.1" fill="none" stroke="#000" stroke-width="2"/><circle cx="89.2" cy="1296.11" r="5.1" fill="none" stroke="#000" stroke-width="2"/><circle cx="132.1" cy="1273.66" r="5.1" fill="none" stroke="#000" stroke-width="2"/><circle cx="175" cy="1229.78" r="5.1" fill="none" stroke="#000" stroke-width="2"/><circle cx="260.8" cy="1204.32" r="5.1" fill="none" stroke="#000" stroke-width="2"/><circle cx="346.6" cy="1196.62" r="5.1" fill="none" stroke="#000" stroke-width="2"/><circle cx="410.95" cy="1216.38" r="5.1" fill="none" stroke="#000" stroke-width="2"/><circle cx="475.3" cy="1211.02" r="5.1" fill="none" stroke="#000" stroke-width="2"/><circle cx="561.1" cy="1188.58" r="5.1" fill="none" stroke="#000" stroke-width="2"/></g>
<g><rect x="41.1" y="1300.62" width="10.4" height="10.4" fill="none" stroke="#000" stroke-width="2"/><rect x="62.55" y="1503.3" width="10.4" height="10.4" fill="none" stroke="#000" stroke-width="2"/><rect x="84" y="1503.3" width="10.4" height="10.4" fill="none" stroke="#000" stroke-width="2"/><rect x="126.9" y="1503.3" width="10.4" height="10.4" fill="none" stroke="#000" stroke-width="2"/><rect x="169.8" y="1449.7" width="10.4" height="10.4" fill="none" stroke="#000" stroke-width="2"/><rect x="255.6" y="1403.13" width="10.4" height="10.4" fill="none" stroke="#000" stroke-width="2"/><rect x="341.4" y="1239.65" width="10.4" height="10.4" fill="none" stroke="#000" stroke-width="2"/><rect x="405.75" y="1210.85" width="10.4" height="10.4" fill="none" stroke="#000" stroke-width="2"/><rect x="470.1" y="1197.78" width="10.4" height="10.4" fill="none" stroke="#000" stroke-width="2"/><rect x="555.9" y="1144.18" width="10.4" height="10.4" fill="none" stroke="#000" stroke-width="2"/></g>
<g><path d="M46.3 1300.83L51.25 1310.73L41.35 1310.73Z" fill="none" stroke="#000" stroke-width="2" stroke-linejoin="miter"/><path d="M67.75 1503.5L72.7 1513.4L62.8 1513.4Z" fill="none" stroke="#000" stroke-width="2" stroke-linejoin="miter"/><path d="M89.2 1503.5L94.15 1513.4L84.25 1513.4Z" fill="none" stroke="#000" stroke-width="2" stroke-linejoin="miter"/><path d="M132.1 1503.5L137.05 1513.4L127.15 1513.4Z" fill="none" stroke="#000" stroke-width="2" stroke-linejoin="miter"/><path d="M175 1471.01L179.95 1480.91L170.05 1480.91Z" fill="none" stroke="#000" stroke-width="2" stroke-linejoin="miter"/><path d="M260.8 1445.21L265.75 1455.11L255.85 1455.11Z" fill="none" stroke="#000" stroke-width="2" stroke-linejoin="miter"/><path d="M346.6 1343.04L351.55 1352.94L341.65 1352.94Z" fill="none" stroke="#000" stroke-width="2" stroke-linejoin="miter"/><path d="M410.95 1286.76L415.9 1296.66L406 1296.66Z" fill="none" stroke="#000" stroke-width="2" stroke-linejoin="miter"/><path d="M475.3 1251.91L480.25 1261.82L470.35 1261.82Z" fill="none" stroke="#000" stroke-width="2" stroke-linejoin="miter"/><path d="M561.1 1205.35L566.05 1215.25L556.15 1215.25Z" fill="none" stroke="#000" stroke-width="2" stroke-linejoin="miter"/></g>
<g><rect x="40.95" y="1300.48" width="10.7" height="10.7" fill="#000"/><rect x="62.4" y="1503.15" width="10.7" height="10.7" fill="#000"/><rect x="83.85" y="1503.15" width="10.7" height="10.7" fill="#000"/><rect x="126.75" y="1503.15" width="10.7" height="10.7" fill="#000"/><rect x="169.65" y="1449.22" width="10.7" height="10.7" fill="#000"/><rect x="255.45" y="1383.56" width="10.7" height="10.7" fill="#000"/><rect x="341.25" y="1255.59" width="10.7" height="10.7" fill="#000"/><rect x="405.6" y="1229.79" width="10.7" height="10.7" fill="#000"/><rect x="469.95" y="1200.31" width="10.7" height="10.7" fill="#000"/><rect x="555.75" y="1183.23" width="10.7" height="10.7" fill="#000"/></g>
<g><path d="M46.3 1300.53L46.3 1311.12M50.05 1302.08L42.55 1309.57M51.6 1305.83L41 1305.83M50.05 1309.57L42.55 1302.08" fill="none" stroke="#000" stroke-width="1.8"/><path d="M67.75 1459.65L67.75 1470.25M71.5 1461.2L64 1468.7M73.05 1464.95L62.45 1464.95M71.5 1468.7L64 1461.2" fill="none" stroke="#000" stroke-width="1.8"/><path d="M89.2 1459.65L89.2 1470.25M92.95 1461.2L85.45 1468.7M94.5 1464.95L83.9 1464.95M92.95 1468.7L85.45 1461.2" fill="none" stroke="#000" stroke-width="1.8"/><path d="M132.1 1426.15L132.1 1436.75M135.85 1427.7L128.35 1435.2M137.4 1431.45L126.8 1431.45M135.85 1435.2L128.35 1427.7" fill="none" stroke="#000" stroke-width="1.8"/><path d="M175 1369.54L175 1380.13M178.75 1371.09L171.25 1378.58M180.3 1374.84L169.7 1374.84M178.75 1378.58L171.25 1371.09" fill="none" stroke="#000" stroke-width="1.8"/><path d="M260.8 1293.83L260.8 1304.42M264.55 1295.38L257.05 1302.87M266.1 1299.12L255.5 1299.12M264.55 1302.87L257.05 1295.38" fill="none" stroke="#000" stroke-width="1.8"/><path d="M346.6 1204.38L346.6 1214.98M350.35 1205.93L342.85 1213.43M351.9 1209.68L341.3 1209.68M350.35 1213.43L342.85 1205.93" fill="none" stroke="#000" stroke-width="1.8"/><path d="M410.95 1207.73L410.95 1218.33M414.7 1209.28L407.2 1216.78M416.25 1213.03L405.65 1213.03M414.7 1216.78L407.2 1209.28" fill="none" stroke="#000" stroke-width="1.8"/><path d="M475.3 1185.62L475.3 1196.22M479.05 1187.17L471.55 1194.67M480.6 1190.92L470 1190.92M479.05 1194.67L471.55 1187.17" fill="none" stroke="#000" stroke-width="1.8"/><path d="M561.1 1158.49L561.1 1169.09M564.85 1160.04L557.35 1167.53M566.4 1163.79L555.8 1163.79M564.85 1167.53L557.35 1160.04" fill="none" stroke="#000" stroke-width="1.8"/></g>
<g><path d="M46.3 1299.53L52 1310.23L40.6 1310.23Z" fill="#000"/><path d="M67.75 1468.7L73.45 1479.4L62.05 1479.4Z" fill="#000"/><path d="M89.2 1502.2L94.9 1512.9L83.5 1512.9Z" fill="#000"/><path d="M132.1 1502.2L137.8 1512.9L126.4 1512.9Z" fill="#000"/><path d="M175 1502.2L180.7 1512.9L169.3 1512.9Z" fill="#000"/><path d="M260.8 1468.7L266.5 1479.4L255.1 1479.4Z" fill="#000"/><path d="M346.6 1401.03L352.3 1411.73L340.9 1411.73Z" fill="#000"/><path d="M410.95 1380.26L416.65 1390.96L405.25 1390.96Z" fill="#000"/><path d="M475.3 1339.06L481 1349.76L469.6 1349.76Z" fill="#000"/><path d="M561.1 1311.59L566.8 1322.29L555.4 1322.29Z" fill="#000"/></g>
<path class="ln" d="M596.65 1214.9L601.35 1214.9M610.75 1214.9L615.45 1214.9" stroke-width="3.1" stroke-linecap="round"/>
<circle cx="606.1" cy="1214.9" r="5.1" fill="none" stroke="#000" stroke-width="2"/>
<text x="629.3" y="1220.1" font-size="14.2">FM (8g q8h)</text>
<path class="ln" d="M596.65 1250.3L601.35 1250.3M610.75 1250.3L615.45 1250.3" stroke-width="3.1" stroke-linecap="round"/>
<rect x="600.9" y="1245.1" width="10.4" height="10.4" fill="none" stroke="#000" stroke-width="2"/>
<text x="629.3" y="1255.5" font-size="14.2">AMK (7.5mg/kg qd)</text>
<path class="ln" d="M596 1286.2L599.5 1286.2M605.3 1286.2L609.5 1286.2M615.3 1286.2L616.4 1286.2" stroke-width="1.8" stroke-linecap="round"/>
<path d="M606.1 1281.2L611.05 1291.1L601.15 1291.1Z" fill="none" stroke="#000" stroke-width="2" stroke-linejoin="miter"/>
<text x="629.3" y="1291.4" font-size="14.2">AMK (15mg/kg qd)</text>
<path class="ln" d="M595.1 1321.7L617.1 1321.7" stroke-width="3.1"/>
<rect x="600.75" y="1316.35" width="10.7" height="10.7" fill="#000"/>
<text x="629.3" y="1326.9" font-size="14.2">FM (8g q8h) <tspan dx="1" stroke="#000" stroke-width="0.4">+</tspan> <tspan dx="1">AKM (7.5mg/kg qd)</tspan></text>
<path class="ln" d="M595.1 1357.3L617.1 1357.3" stroke-width="3.1"/>
<path d="M606.1 1352L606.1 1362.6M609.85 1353.55L602.35 1361.05M611.4 1357.3L600.8 1357.3M609.85 1361.05L602.35 1353.55" fill="none" stroke="#000" stroke-width="1.8"/>
<text x="629.3" y="1362.5" font-size="14.2">FM (8g q8h) <tspan dx="1" stroke="#000" stroke-width="0.4">+</tspan> <tspan dx="1">AMK (7.5mg/kg q12h)</tspan></text>
<path class="ln" d="M595.1 1392.8L617.1 1392.8" stroke-width="3.1"/>
<path d="M606.1 1386.5L611.8 1397.2L600.4 1397.2Z" fill="#000"/>
<text x="629.3" y="1398" font-size="14.2">FM (8g q8h) <tspan dx="1" stroke="#000" stroke-width="0.4">+</tspan> <tspan dx="1">AMK (15mg/kg qd)</tspan></text>
<path class="ln" d="M595.1 1428.4L617.1 1428.4" stroke-width="3.1"/>
<text x="629.3" y="1433.6" font-size="14.2">Growth control</text>
</g>
<g id="panel-F">
<text class="sans" x="900.5" y="1085.2" font-size="30.5">F</text>
<path class="ax" d="M954.2 1108.2L954.2 1516.9M948.6 1511.3L1468.9 1511.3M948.6 1444.3L954.2 1444.3M948.6 1377.3L954.2 1377.3M948.6 1310.3L954.2 1310.3M948.6 1243.3L954.2 1243.3M948.6 1176.3L954.2 1176.3M948.6 1109.3L954.2 1109.3M997 1511.3L997 1516.9M1039.8 1511.3L1039.8 1516.9M1082.6 1511.3L1082.6 1516.9M1125.4 1511.3L1125.4 1516.9M1168.2 1511.3L1168.2 1516.9M1211 1511.3L1211 1516.9M1253.8 1511.3L1253.8 1516.9M1296.6 1511.3L1296.6 1516.9M1339.4 1511.3L1339.4 1516.9M1382.2 1511.3L1382.2 1516.9M1425 1511.3L1425 1516.9M1467.8 1511.3L1467.8 1516.9" stroke-width="2.2"/>
<text class="sans" x="946.3" y="1517.53" font-size="17.4" text-anchor="end">0</text>
<text class="sans" x="946.3" y="1450.53" font-size="17.4" text-anchor="end">2</text>
<text class="sans" x="946.3" y="1383.53" font-size="17.4" text-anchor="end">4</text>
<text class="sans" x="946.3" y="1316.53" font-size="17.4" text-anchor="end">6</text>
<text class="sans" x="946.3" y="1249.53" font-size="17.4" text-anchor="end">8</text>
<text class="sans" x="946.3" y="1182.53" font-size="17.4" text-anchor="end">10</text>
<text class="sans" x="946.3" y="1115.53" font-size="17.4" text-anchor="end">12</text>
<text x="954.2" y="1535.6" font-size="17.2" text-anchor="middle">0</text>
<text x="997" y="1535.6" font-size="17.2" text-anchor="middle">2</text>
<text x="1039.8" y="1535.6" font-size="17.2" text-anchor="middle">4</text>
<text x="1082.6" y="1535.6" font-size="17.2" text-anchor="middle">6</text>
<text x="1125.4" y="1535.6" font-size="17.2" text-anchor="middle">8</text>
<text x="1168.2" y="1535.6" font-size="17.2" text-anchor="middle">10</text>
<text x="1211" y="1535.6" font-size="17.2" text-anchor="middle">12</text>
<text x="1253.8" y="1535.6" font-size="17.2" text-anchor="middle">14</text>
<text x="1296.6" y="1535.6" font-size="17.2" text-anchor="middle">16</text>
<text x="1339.4" y="1535.6" font-size="17.2" text-anchor="middle">18</text>
<text x="1382.2" y="1535.6" font-size="17.2" text-anchor="middle">20</text>
<text x="1425" y="1535.6" font-size="17.2" text-anchor="middle">22</text>
<text x="1467.8" y="1535.6" font-size="17.2" text-anchor="middle">24</text>
<text x="1211" y="1556.5" font-size="17.45" text-anchor="middle">Time (h)</text>
<text transform="translate(926 1309.3) rotate(-90)" font-size="17.7" text-anchor="middle">Log10 CFU/ml</text>
<polyline class="ln" points="954.2,1305.27 975.6,1302.93 997,1287.18 1039.8,1242.96 1082.6,1205.78 1168.2,1187.02 1253.8,1156.87 1318,1146.15 1382.2,1138.44 1467.8,1128.06" stroke-width="3.1"/>
<polyline class="ln" points="954.2,1300.92 975.6,1316.33 997,1298.91 1039.8,1276.46 1082.6,1232.58 1168.2,1207.12 1253.8,1199.41 1318,1219.18 1382.2,1213.82 1467.8,1191.38" stroke-width="3.1" stroke-linecap="round" stroke-dasharray="5.6 9.6" stroke-dashoffset="0.3"/>
<polyline class="ln" points="954.2,1308.96 975.6,1318.67 997,1309.3 1039.8,1268.09 1082.6,1232.24 1168.2,1205.11 1253.8,1195.73 1318,1188.02 1382.2,1183 1467.8,1158.55" stroke-width="1.8" stroke-linecap="round" stroke-dasharray="4.5 5.5"/>
<polyline class="ln" points="954.2,1306.95 975.6,1344.13 997,1377.3 1039.8,1353.85 1082.6,1346.48 1168.2,1367.59 1253.8,1339.44 1318,1331.74 1382.2,1321.69 1467.8,1310.3" stroke-width="3.1"/>
<g><circle cx="954.2" cy="1300.92" r="5.1" fill="none" stroke="#000" stroke-width="2"/><circle cx="975.6" cy="1316.33" r="5.1" fill="none" stroke="#000" stroke-width="2"/><circle cx="997" cy="1298.91" r="5.1" fill="none" stroke="#000" stroke-width="2"/><circle cx="1039.8" cy="1276.46" r="5.1" fill="none" stroke="#000" stroke-width="2"/><circle cx="1082.6" cy="1232.58" r="5.1" fill="none" stroke="#000" stroke-width="2"/><circle cx="1168.2" cy="1207.12" r="5.1" fill="none" stroke="#000" stroke-width="2"/><circle cx="1253.8" cy="1199.41" r="5.1" fill="none" stroke="#000" stroke-width="2"/><circle cx="1318" cy="1219.18" r="5.1" fill="none" stroke="#000" stroke-width="2"/><circle cx="1382.2" cy="1213.82" r="5.1" fill="none" stroke="#000" stroke-width="2"/><circle cx="1467.8" cy="1191.38" r="5.1" fill="none" stroke="#000" stroke-width="2"/></g>
<g><rect x="949" y="1303.76" width="10.4" height="10.4" fill="none" stroke="#000" stroke-width="2"/><rect x="970.4" y="1313.47" width="10.4" height="10.4" fill="none" stroke="#000" stroke-width="2"/><rect x="991.8" y="1304.1" width="10.4" height="10.4" fill="none" stroke="#000" stroke-width="2"/><rect x="1034.6" y="1262.89" width="10.4" height="10.4" fill="none" stroke="#000" stroke-width="2"/><rect x="1077.4" y="1227.04" width="10.4" height="10.4" fill="none" stroke="#000" stroke-width="2"/><rect x="1163" y="1199.91" width="10.4" height="10.4" fill="none" stroke="#000" stroke-width="2"/><rect x="1248.6" y="1190.53" width="10.4" height="10.4" fill="none" stroke="#000" stroke-width="2"/><rect x="1312.8" y="1182.82" width="10.4" height="10.4" fill="none" stroke="#000" stroke-width="2"/><rect x="1377" y="1177.8" width="10.4" height="10.4" fill="none" stroke="#000" stroke-width="2"/><rect x="1462.6" y="1153.35" width="10.4" height="10.4" fill="none" stroke="#000" stroke-width="2"/></g>
<g><rect x="948.85" y="1301.6" width="10.7" height="10.7" fill="#000"/><rect x="970.25" y="1338.79" width="10.7" height="10.7" fill="#000"/><rect x="991.65" y="1371.95" width="10.7" height="10.7" fill="#000"/><rect x="1034.45" y="1348.5" width="10.7" height="10.7" fill="#000"/><rect x="1077.25" y="1341.13" width="10.7" height="10.7" fill="#000"/><rect x="1162.85" y="1362.24" width="10.7" height="10.7" fill="#000"/><rect x="1248.45" y="1334.1" width="10.7" height="10.7" fill="#000"/><rect x="1312.65" y="1326.39" width="10.7" height="10.7" fill="#000"/><rect x="1376.85" y="1316.34" width="10.7" height="10.7" fill="#000"/><rect x="1462.45" y="1304.95" width="10.7" height="10.7" fill="#000"/></g>
<path class="ln" d="M1506.75 1263.5L1511.45 1263.5M1520.85 1263.5L1525.55 1263.5" stroke-width="3.1" stroke-linecap="round"/>
<circle cx="1516.1" cy="1263.5" r="5.1" fill="none" stroke="#000" stroke-width="2"/>
<text x="1539.7" y="1268.7" font-size="14.2">FM (8g q8h)</text>
<path class="ln" d="M1506.1 1297.9L1509.6 1297.9M1515.4 1297.9L1519.6 1297.9M1525.4 1297.9L1526.5 1297.9" stroke-width="1.8" stroke-linecap="round"/>
<rect x="1510.9" y="1292.7" width="10.4" height="10.4" fill="none" stroke="#000" stroke-width="2"/>
<text x="1539.7" y="1303.1" font-size="14.2">COL (<tspan font-size="12.5" textLength="38.7" lengthAdjust="spacingAndGlyphs" stroke="#000" stroke-width="0.35">75000IU</tspan>/kg q12h)</text>
<path class="ln" d="M1505.2 1333L1527 1333" stroke-width="3.1"/>
<rect x="1510.75" y="1327.65" width="10.7" height="10.7" fill="#000"/>
<text x="1539.7" y="1338.2" font-size="14.2">FM (8g q8h) <tspan dx="1" stroke="#000" stroke-width="0.4">+</tspan> <tspan dx="1">COL (</tspan><tspan font-size="12.5" textLength="38.7" lengthAdjust="spacingAndGlyphs" stroke="#000" stroke-width="0.35">75000IU</tspan>/kg q12h)</text>
<path class="ln" d="M1505.2 1367.8L1527 1367.8" stroke-width="3.1"/>
<text x="1539.7" y="1373" font-size="14.2">Growth control</text>
</g>
</svg>
</body></html>
